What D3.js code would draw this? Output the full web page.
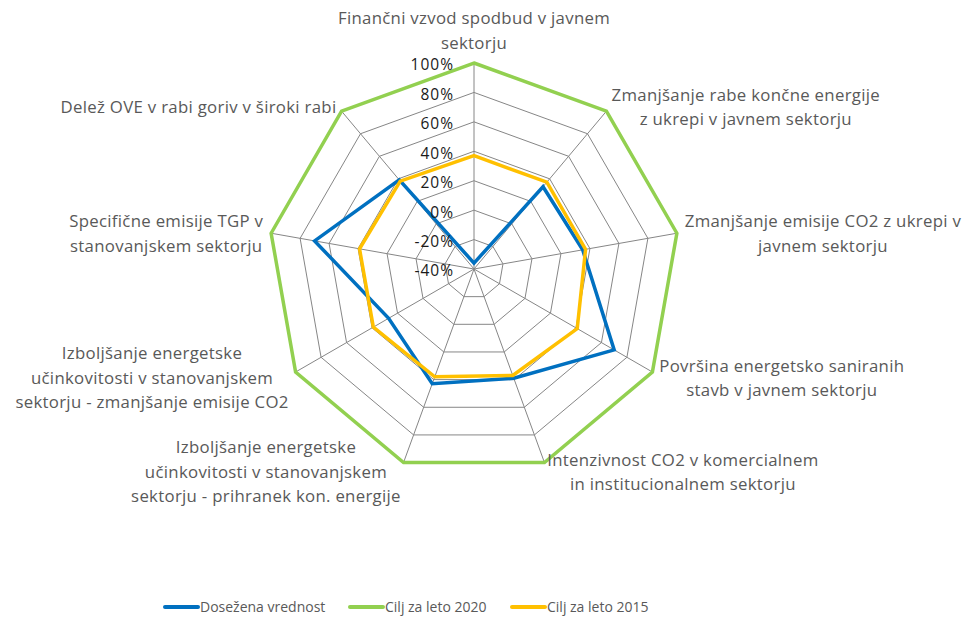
<!DOCTYPE html>
<html>
<head>
<meta charset="utf-8">
<script src="https://cdn.jsdelivr.net/npm/d3@7"></script>
<style>
  body { margin: 0; background: #fff; }
  svg { font-family: 'Open Sans', sans-serif; }
</style>
</head>
<body>
<div id="chart"></div>
<script>
// categories (clockwise from top)
const categories = [
    ['Finančni vzvod spodbud v javnem', 'sektorju'],
    ['Zmanjšanje rabe končne energije', 'z ukrepi v javnem sektorju'],
    ['Zmanjšanje emisije CO2 z ukrepi v', 'javnem sektorju'],
    ['Površina energetsko saniranih', 'stavb v javnem sektorju'],
    ['Intenzivnost CO2 v komercialnem', 'in institucionalnem sektorju'],
    ['Izboljšanje energetske', 'učinkovitosti v stanovanjskem', 'sektorju - prihranek kon. energije'],
    ['Izboljšanje energetske', 'učinkovitosti v stanovanjskem', 'sektorju - zmanjšanje emisije CO2'],
    ['Specifične emisije TGP v', 'stanovanjskem sektorju'],
    ['Delež OVE v rabi goriv v široki rabi']
];
const seriesNames = ['Dosežena vrednost', 'Cilj za leto 2020', 'Cilj za leto 2015'];
const dosezena = [-36, 33, 35, 70, 39, 43, 27, 70, 39];
const cilj2020 = [100, 100, 100, 100, 100, 100, 100, 100, 100];
const cilj2015 = [37, 37, 37, 41, 37, 38, 39, 39, 38];
const tickValues = [-40, -20, 0, 20, 40, 60, 80, 100];
const colors = ['#0070C0', '#92D050', '#FFC000'];

const width = 965, height = 619;
const cx = 474, cy = 269, R = 206;

const svg = d3.select('#chart')
    .append('svg')
    .attr('width', width)
    .attr('height', height);

const r = d3.scaleLinear()
    .domain([-40, 100])
    .range([0, R]);
const angle = d3.scaleBand()
    .domain(d3.range(categories.length))
    .range([0, 2 * Math.PI]);

const graph = svg.append('g')
    .attr('transform', `translate(${cx}, ${cy})`);

const pt = (i, v) => {
    const a = angle(i);
    return [r(v) * Math.sin(a), -r(v) * Math.cos(a)];
};

// grid rings
const ring = d3.lineRadial()
    .angle((d, i) => angle(i))
    .radius(d => r(d))
    .curve(d3.curveLinearClosed);
graph.selectAll('.ring')
    .data(tickValues.slice(1, -1))
    .enter()
    .append('path')
    .attr('class', 'ring')
    .attr('d', t => ring(categories.map(() => t)))
    .attr('fill', 'none')
    .attr('stroke', '#868686')
    .attr('stroke-width', 1);

// spokes
graph.selectAll('.spoke')
    .data(categories)
    .enter()
    .append('line')
    .attr('class', 'spoke')
    .attr('x1', 0).attr('y1', 0)
    .attr('x2', (d, i) => pt(i, 100)[0])
    .attr('y2', (d, i) => pt(i, 100)[1])
    .attr('stroke', '#868686')
    .attr('stroke-width', 1);

// series
const seriesData = [dosezena, cilj2020, cilj2015];
graph.selectAll('.series')
    .data(seriesData)
    .enter()
    .append('path')
    .attr('class', 'series')
    .attr('d', d => ring(d))
    .attr('fill', 'none')
    .attr('stroke', (d, i) => colors[i])
    .attr('stroke-width', 3.5)
    .attr('stroke-linejoin', 'miter');

// tick labels on the first axis
graph.selectAll('.tick')
    .data(tickValues)
    .enter()
    .append('text')
    .attr('class', 'tick')
    .attr('x', -20)
    .attr('y', d => -r(d) + 2)
    .attr('dy', '0.35em')
    .attr('text-anchor', 'end')
    .attr('fill', '#1a1a1a')
    .style('font-size', '15.5px')
    .style('letter-spacing', '1px')
    .text(d => d + '%');

// category labels
const lineH = 24.5;
categories.forEach((lines, i) => {
    const a = angle(i);
    const s = Math.sin(a), c = Math.cos(a);
    const px = (R + 8) * s, py = -(R + 8) * c;
    const g = graph.append('g');
    const texts = g.selectAll('text')
        .data(lines)
        .enter()
        .append('text')
        .attr('text-anchor', 'middle')
        .attr('fill', '#595959')
        .style('font-size', '16.8px')
        .style('letter-spacing', '0.3px')
        .text(d => d);
    const w = d3.max(texts.nodes(), n => n.getComputedTextLength());
    const h = lines.length * lineH;
    let bx = px, by = py + 2;
    if (Math.abs(s) > 0.1) bx = px + Math.sign(s) * w / 2;
    if (Math.abs(s) <= 0.1) by = py - h / 2;
    texts.attr('x', bx)
        .attr('y', (d, j) => by - h / 2 + lineH * (j + 0.5))
        .attr('dy', '0.35em');
});

// legend
const legendX = [165, 350, 512];
const legend = svg.append('g')
    .attr('transform', 'translate(0, 607)');
seriesNames.forEach((name, i) => {
    legend.append('line')
        .attr('x1', legendX[i]).attr('x2', legendX[i] + 33)
        .attr('y1', 0).attr('y2', 0)
        .attr('stroke', colors[i])
        .attr('stroke-width', 4)
        .attr('stroke-linecap', 'round');
    legend.append('text')
        .attr('x', legendX[i] + 35)
        .attr('y', 0)
        .attr('dy', '0.35em')
        .attr('fill', '#595959')
        .style('font-size', '14px')
        .text(name);
});
</script>
</body>
</html>
